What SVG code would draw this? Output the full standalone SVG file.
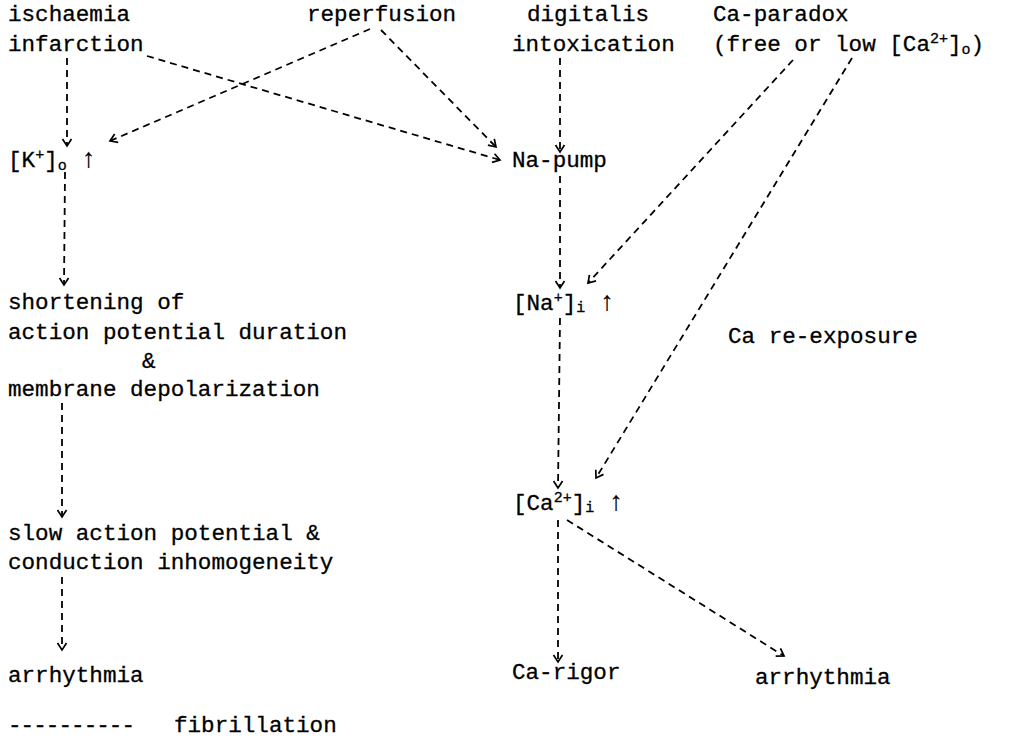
<svg xmlns="http://www.w3.org/2000/svg" width="1016" height="741" viewBox="0 0 1016 741">
<defs>
<style>
text{font-family:"Liberation Mono","DejaVu Sans Mono",monospace;font-size:22.6px;fill:#000;stroke:#000;stroke-width:0.3}
.sm{font-size:15px}
.up{font-size:27px;stroke-width:0.2}
.c{fill:none;stroke:#000;stroke-width:1.8;stroke-dasharray:7 5}
</style>
<marker id="ah" markerUnits="userSpaceOnUse" markerWidth="14" markerHeight="14" viewBox="-10 -7 14 14" refX="0" refY="0" orient="auto">
<path d="M-7,-4.5 L0,0 L-7,4.5" fill="none" stroke="#000" stroke-width="1.7"/>
</marker>
</defs>
<rect width="1016" height="741" fill="#fff"/>
<g id="connectors">
<line class="c" x1="67" y1="58" x2="67" y2="146" marker-end="url(#ah)"/>
<line class="c" x1="370" y1="29" x2="110" y2="141" marker-end="url(#ah)"/>
<line class="c" x1="147" y1="56" x2="500" y2="160" marker-end="url(#ah)"/>
<line class="c" x1="381" y1="30" x2="496" y2="147" marker-end="url(#ah)"/>
<line class="c" x1="560" y1="58" x2="560" y2="152" marker-end="url(#ah)"/>
<line class="c" x1="793" y1="60" x2="588" y2="283" marker-end="url(#ah)"/>
<line class="c" x1="852" y1="58" x2="596" y2="478" marker-end="url(#ah)"/>
<line class="c" x1="560" y1="176" x2="560" y2="288" marker-end="url(#ah)"/>
<line class="c" x1="65" y1="172" x2="64" y2="285" marker-end="url(#ah)"/>
<line class="c" x1="560" y1="318" x2="558" y2="488" marker-end="url(#ah)"/>
<line class="c" x1="62" y1="403" x2="62" y2="517" marker-end="url(#ah)"/>
<line class="c" x1="62" y1="577" x2="62" y2="650" marker-end="url(#ah)"/>
<line class="c" x1="558" y1="520" x2="558" y2="662" marker-end="url(#ah)"/>
<line class="c" x1="567" y1="520" x2="784" y2="656" marker-end="url(#ah)"/>
</g>
<g id="ischaemia"><text x="8" y="21">ischaemia</text><text x="8" y="51">infarction</text></g>
<g id="reperfusion"><text x="307" y="21">reperfusion</text></g>
<g id="digitalis"><text x="527" y="21">digitalis</text><text x="512" y="51">intoxication</text></g>
<g id="ca-paradox"><text x="713" y="21">Ca-paradox</text><text x="713" y="51">(free or low [Ca<tspan class="sm" dy="-8">2+</tspan><tspan dy="8">]</tspan><tspan class="sm" dy="3">o</tspan><tspan dy="-3">)</tspan></text></g>
<g id="k-out"><text x="8" y="167">[K<tspan class="sm" dy="-8">+</tspan><tspan dy="8">]</tspan><tspan class="sm" dy="3">o</tspan><tspan dy="-3"> </tspan><tspan class="up">↑</tspan></text></g>
<g id="na-pump"><text x="512" y="167">Na-pump</text></g>
<g id="shortening"><text x="8" y="309">shortening of</text><text x="8" y="339">action potential duration</text><text x="142" y="368">&amp;</text><text x="8" y="396">membrane depolarization</text></g>
<g id="na-in"><text x="513" y="310">[Na<tspan class="sm" dy="-8">+</tspan><tspan dy="8">]</tspan><tspan class="sm" dy="2">i</tspan><tspan dy="-2"> </tspan><tspan class="up">↑</tspan></text></g>
<g id="ca-reexposure"><text x="728" y="343">Ca re-exposure</text></g>
<g id="ca-in"><text x="513" y="510">[Ca<tspan class="sm" dy="-8">2+</tspan><tspan dy="8">]</tspan><tspan class="sm" dy="2">i</tspan><tspan dy="-2"> </tspan><tspan class="up">↑</tspan></text></g>
<g id="slow-ap"><text x="8" y="540">slow action potential &amp;</text><text x="8" y="569">conduction inhomogeneity</text></g>
<g id="arrhythmia-left"><text x="8" y="682">arrhythmia</text></g>
<g id="ca-rigor"><text x="512" y="679">Ca-rigor</text></g>
<g id="arrhythmia-right"><text x="755" y="684">arrhythmia</text></g>
<g id="legend"><text x="8" y="732" textLength="127" lengthAdjust="spacing">----------</text><text x="174" y="732">fibrillation</text></g>
</svg>
